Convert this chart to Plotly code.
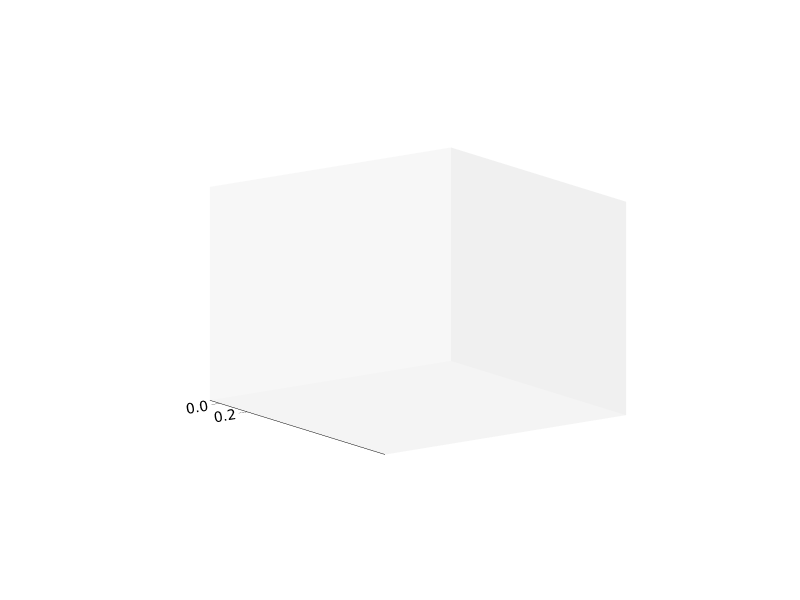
import numpy as np
import plotly.graph_objects as go

# --- Axis extents (empty 3D axes) ---
x_range = [-0.07, 1.2]
y_range = [0.0, 1.0]
z_range = [0.0, 1.0]
x_ticks = [0.0, 0.2]
x_tick_labels = ["0.0", "0.2"]

# --- Pane colours (matplotlib-like light grey panes) ---
pane_x = "#f7f7f7"
pane_y = "#f0f0f0"
pane_z = "#f4f4f4"

# invisible corner points so the scene exists
fig = go.Figure(go.Scatter3d(
    x=x_range, y=y_range, z=z_range,
    mode="markers", marker=dict(size=1, opacity=0),
    hoverinfo="skip", showlegend=False,
))

hidden = dict(
    showticklabels=False, showgrid=False, zeroline=False, showline=False,
    showspikes=False, ticks="", title=dict(text=""),
)

# --- camera: elevation ~13 deg, azimuth ~ -36 deg ---
elev, azim, dist = np.radians(13), np.radians(-36), 2.0
eye = dict(
    x=dist * np.cos(elev) * np.cos(azim),
    y=dist * np.cos(elev) * np.sin(azim),
    z=dist * np.sin(elev),
)

box = 1.29  # overall box scale
fig.update_layout(
    width=800, height=600,
    margin=dict(l=0, r=0, t=0, b=0),
    paper_bgcolor="white",
    font=dict(family="DejaVu Sans", size=13, color="black"),
    scene=dict(
        domain=dict(x=[0.125, 0.9], y=[0.127, 0.897]),
        aspectmode="manual",
        aspectratio=dict(x=box, y=box, z=0.735 * box),
        camera=dict(eye=eye, center=dict(x=0, y=0, z=0), up=dict(x=0, y=0, z=1),
                    projection=dict(type="orthographic")),
        xaxis=dict(
            range=x_range, tickvals=x_ticks, ticktext=x_tick_labels,
            showgrid=False, zeroline=False, showspikes=False,
            showline=True, linecolor="black", linewidth=1,
            ticks="outside", tickcolor="black", ticklen=4,
            showbackground=True, backgroundcolor=pane_x,
            title=dict(text=""),
        ),
        yaxis=dict(range=y_range, showbackground=True, backgroundcolor=pane_y, **hidden),
        zaxis=dict(range=z_range, showbackground=True, backgroundcolor=pane_z, **hidden),
    ),
)

fig.write_html("out.html", config=dict(displayModeBar=False))
